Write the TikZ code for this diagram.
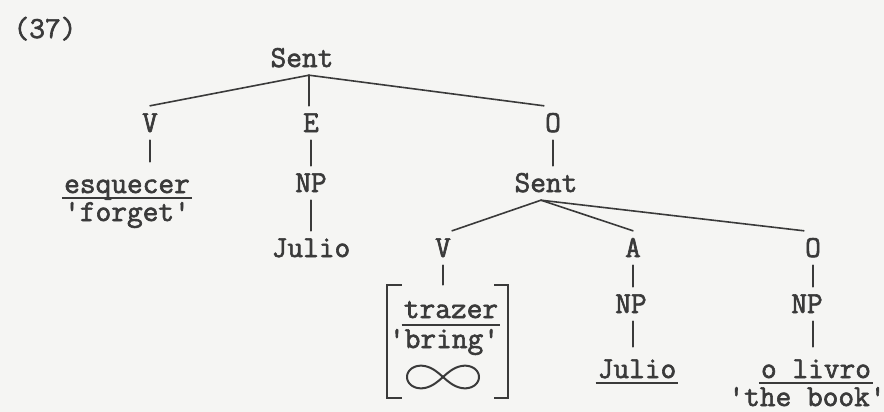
\documentclass[tikz,border=0pt]{standalone}
\usepackage{fontspec}
\newfontfamily\typew[FakeBold=2]{Latin Modern Mono}
\begin{document}
\begin{tikzpicture}[x=1pt,y=-1pt,
  every node/.style={font=\typew\fontsize{30.5}{36}\selectfont, text=ink, anchor=base},
  lab/.style={text height=18pt, text depth=0pt, inner ysep=8pt, inner xsep=1pt},
  word/.style={text height=26pt, text depth=0pt, inner ysep=5pt, inner xsep=2pt},
  gloss/.style={inner sep=0pt},
  edge/.style={draw=ink, line width=1.6pt, line cap=round},
  uline/.style={draw=ink, line width=1.6pt}
]
\definecolor{ink}{RGB}{58,58,58}
\definecolor{paper}{RGB}{245,245,243}
\fill[paper] (0,0) rectangle (884,412);
\useasboundingbox (0,0) rectangle (884,412);

% label
\node[gloss] (num) at (45,38) {(37)};

% top level
\node[lab] (root) at (302,67) {Sent};
\node[lab] (v1) at (150,132) {V};
\node[lab] (e1) at (311,132) {E};
\node[lab] (o1) at (553,132) {O};
\coordinate (rj) at ([xshift=7pt]root.south);

\node[word] (esq) at (127,193) {esquecer};
\node[gloss] (forget) at (127,221) {'forget'};
\node[lab] (np1) at (311,192) {NP};
\node[lab] (julio1) at (311,257) {Julio};

% embedded sentence
\node[lab] (sent2) at (546,192) {Sent};
\coordinate (sj) at ([xshift=-5pt]sent2.south);
\node[lab] (v2) at (443,257) {V};
\node[lab] (a2) at (633,257) {A};
\node[lab] (o2) at (813,257) {O};

\node[lab] (np2) at (631,313) {NP};
\node[word] (julio2) at (637,378) {Julio};
\node[lab] (np3) at (807,313) {NP};
\node[word] (livro) at (816,378) {o livro};
\node[gloss] (book) at (807,406) {'the book'};

% bracketed verb
\node[draw=none, minimum width=121pt, minimum height=113pt, inner sep=0pt, anchor=center] (brk) at (447.5,341.5) {};
\node[word, inner ysep=7pt] (trazer) at (451,318) {trazer};
\node[gloss] (bring) at (444,348) {'bring'};
\coordinate (inf) at (443,377);

% connectors
\draw[edge] (rj) -- (v1.north);
\draw[edge] (rj) -- (rj |- e1.north);
\draw[edge] (rj) -- (o1.north west);
\draw[edge] (v1.south) -- (v1.south |- esq.north);
\draw[edge] (e1.south) -- (np1.north);
\draw[edge] (np1.south) -- (julio1.north);
\draw[edge] (o1.south) -- (o1.south |- sent2.north);
\draw[edge] (sj) -- (v2.north east);
\draw[edge] (sj) -- (a2.north);
\draw[edge] (sj) -- (o2.north west);
\draw[edge] (v2.south) -- (v2.south |- brk.north);
\draw[edge] (a2.south) -- (a2.south |- np2.north);
\draw[edge] (a2.south |- np2.south) -- (a2.south |- julio2.north);
\draw[edge] (o2.south) -- (o2.south |- np3.north);
\draw[edge] (o2.south |- np3.south) -- (o2.south |- livro.north);

% underlines
\draw[uline] (esq.south west) -- (esq.south east);
\draw[uline] (trazer.south west) -- (trazer.south east);
\draw[uline] (julio2.south west) -- (julio2.south east);
\draw[uline] (livro.south west) -- (livro.south east);

% brackets
\draw[uline] ([xshift=15pt]brk.north west) -- (brk.north west) -- (brk.south west) -- ([xshift=15pt]brk.south west);
\draw[uline] ([xshift=-14pt]brk.north east) -- (brk.north east) -- (brk.south east) -- ([xshift=-14pt]brk.south east);

% infinity loop
\draw[draw=ink, line width=2pt, shift={(inf)}] plot[domain=0:360, samples=120, smooth]
  ({36*cos(\x)/(1+sin(\x)^2)}, {32*sin(\x)*cos(\x)/(1+sin(\x)^2)});
\end{tikzpicture}
\end{document}
